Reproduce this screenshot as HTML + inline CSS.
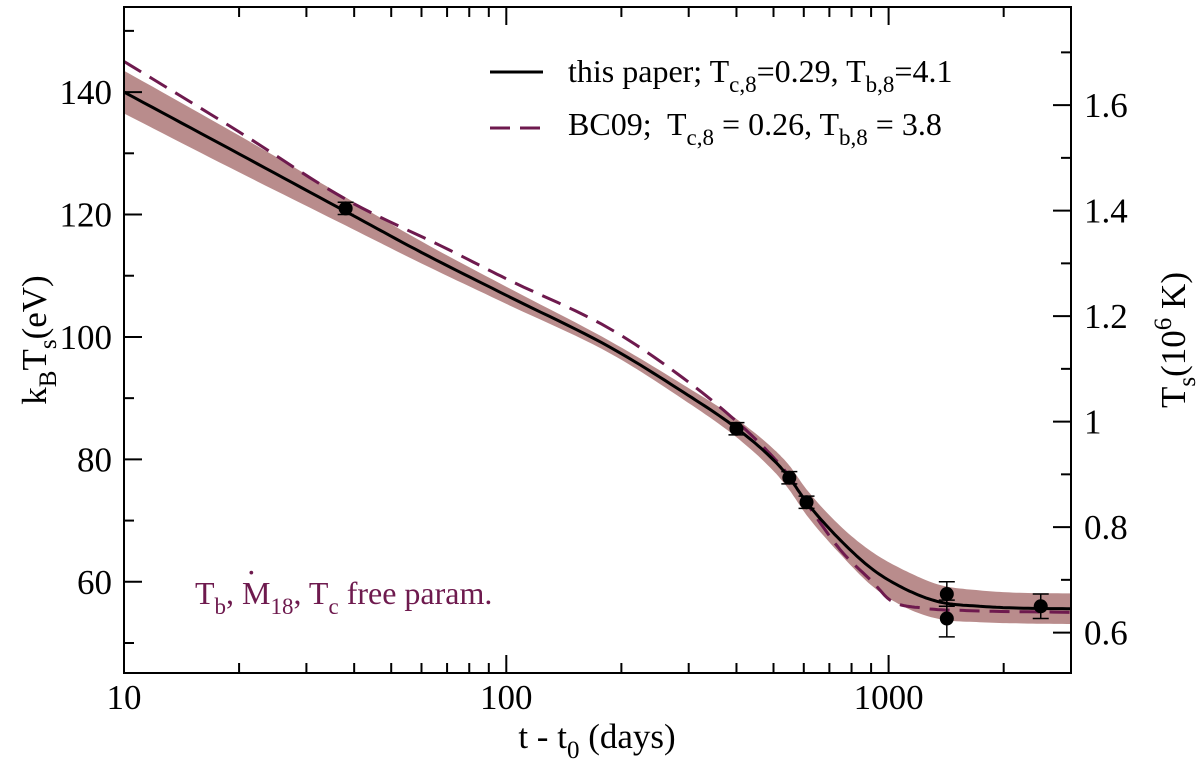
<!DOCTYPE html>
<html><head><meta charset="utf-8"><style>
html,body{margin:0;padding:0;background:#fff;}
</style></head><body>
<svg id="chart" width="1200" height="769" viewBox="0 0 1200 769" xmlns="http://www.w3.org/2000/svg" font-family="Liberation Serif, serif">
<g id="band"></g><g id="lines"></g><g id="pts"></g><g id="axes"></g>
<g>
 <line x1="490" y1="72" x2="543" y2="72" stroke="#000" stroke-width="3"/>
 <text x="568" y="82" font-size="32" font-family="Liberation Serif, serif">this paper; T<tspan font-size="23" dy="10">c,8</tspan><tspan dy="-10">=0.29, T</tspan><tspan font-size="23" dy="10">b,8</tspan><tspan dy="-10">=4.1</tspan></text>
 <line x1="490" y1="128" x2="543" y2="128" stroke="#6e1a4e" stroke-width="3" stroke-dasharray="20,10"/>
 <text x="568" y="135" font-size="32" font-family="Liberation Serif, serif" xml:space="preserve">BC09;  T<tspan font-size="23" dy="10">c,8</tspan><tspan dy="-10"> = 0.26, T</tspan><tspan font-size="23" dy="10">b,8</tspan><tspan dy="-10"> = 3.8</tspan></text>
</g>
<text x="195" y="604" font-size="32" fill="#6e1a4e" font-family="Liberation Serif, serif">T<tspan font-size="23" dy="10">b</tspan><tspan dy="-10">, M</tspan><tspan font-size="23" dy="10">18</tspan><tspan dy="-10">, T</tspan><tspan font-size="23" dy="10">c</tspan><tspan dy="-10"> free param.</tspan></text>
<text x="246" y="583" font-size="32" fill="#6e1a4e" font-family="Liberation Serif, serif">·</text>
<text x="597" y="748" font-size="35" text-anchor="middle" font-family="Liberation Serif, serif">t - t<tspan font-size="25" dy="10">0</tspan><tspan dy="-10"> (days)</tspan></text>
<text transform="translate(46,340) rotate(-90)" font-size="35" text-anchor="middle" font-family="Liberation Serif, serif">k<tspan font-size="25" dy="10">B</tspan><tspan dy="-10">T</tspan><tspan font-size="25" dy="10">s</tspan><tspan dy="-10">(eV)</tspan></text>
<text transform="translate(1185,340) rotate(-90)" font-size="35" text-anchor="middle" font-family="Liberation Serif, serif">T<tspan font-size="25" dy="10">s</tspan><tspan dy="-10">(10</tspan><tspan font-size="25" dy="-14">6</tspan><tspan dy="14"> K)</tspan></text>
</svg>
<script>
const xTicks=[10,100,1000];
const yTicks=[60,80,100,120,140];
const y2Ticks=[0.6,0.8,1,1.2,1.4,1.6];
const solidT=[10,20,38,60,100,187,290,400,500,550,610,748,914,1115,1360,1730,2200,3000];
const solidV=[140,129.9,120.5,113.8,106.8,98.3,91,85.1,79.9,77,73,66.8,61.9,58.7,56.7,56.0,55.7,55.6];
const bandHalf=[3.5,3,2.3,1.8,1.4,1,1.2,1.5,1.8,2,2.1,2.3,2.8,3,2.8,2.6,2.5,2.5];
const dashT=[10,20,38,71,100,187,290,400,500,550,610,748,914,1010,1230,1600,3000];
const dashV=[145,133.5,122.5,114.2,109.5,101.3,93.3,86.2,80.3,77.2,72.9,65.2,59.8,57,55.7,55.3,55];
const ptT=[38,400,550,610,1420,1420,2500];
const ptV=[121,85,77,73,58,54,56];
const ptE=[1,1,1,1,2,3,2];
const X0=124,X1=1071,Y0=673,Y1=7,xmin=10,xmax=3000,ymin=45.1,ymax=153.9,EV=86.17;
const sx=t=>X0+(Math.log10(t)-Math.log10(xmin))/(Math.log10(xmax)-Math.log10(xmin))*(X1-X0);
const sy=v=>Y0-(v-ymin)/(ymax-ymin)*(Y0-Y1);
const NS="http://www.w3.org/2000/svg";
function mk(tag,parent,attrs){const e=document.createElementNS(NS,tag);for(const k in attrs)e.setAttribute(k,attrs[k]);document.getElementById(parent).appendChild(e);return e;}
function smooth(pts){ // monotone cubic (Fritsch-Carlson)
 const n=pts.length,x=pts.map(p=>p[0]),y=pts.map(p=>p[1]);
 const d=[],m=[];
 for(let i=0;i<n-1;i++)d.push((y[i+1]-y[i])/(x[i+1]-x[i]));
 m[0]=d[0];m[n-1]=d[n-2];
 for(let i=1;i<n-1;i++){m[i]=(d[i-1]*d[i]<=0)?0:(d[i-1]+d[i])/2;}
 for(let i=0;i<n-1;i++){if(d[i]===0){m[i]=m[i+1]=0;continue;}const a=m[i]/d[i],b=m[i+1]/d[i],s=a*a+b*b;if(s>9){const t=3/Math.sqrt(s);m[i]=t*a*d[i];m[i+1]=t*b*d[i];}}
 const out=[];
 for(let i=0;i<n-1;i++){const h=x[i+1]-x[i];
  for(let s=0;s<12;s++){const t=s/12,t2=t*t,t3=t2*t;
   const h00=2*t3-3*t2+1,h10=t3-2*t2+t,h01=-2*t3+3*t2,h11=t3-t2;
   out.push([x[i]+t*h,h00*y[i]+h10*h*m[i]+h01*y[i+1]+h11*h*m[i+1]]);}}
 out.push(pts[n-1]);return out;
}
const P=a=>a.map(p=>p[0].toFixed(1)+','+p[1].toFixed(1)).join(' ');
let up=smooth(solidT.map((t,i)=>[sx(t),sy(solidV[i]+bandHalf[i])]));
let dn=smooth(solidT.map((t,i)=>[sx(t),sy(solidV[i]-bandHalf[i])])).reverse();
const band=mk('polygon','band',{points:P(up.concat(dn)),fill:'#b98c8c'});


const dl=mk('polyline','lines',{points:P(smooth(dashT.map((t,i)=>[sx(t),sy(dashV[i])]))),fill:'none',stroke:'#6e1a4e','stroke-width':3,'stroke-dasharray':'20,10'});


const sl=mk('polyline','lines',{points:P(smooth(solidT.map((t,i)=>[sx(t),sy(solidV[i])]))),fill:'none',stroke:'#000','stroke-width':3});


ptT.forEach((t,i)=>{
 const x=sx(t),y=sy(ptV[i]),yt=sy(ptV[i]+ptE[i]),yb=sy(ptV[i]-ptE[i]);
 const g=mk('g','pts',{});
 
 
 const add=(tag,a)=>{const e=document.createElementNS(NS,tag);for(const k in a)e.setAttribute(k,a[k]);g.appendChild(e);};
 add('line',{x1:x,y1:yt,x2:x,y2:yb,stroke:'#000','stroke-width':1.5});
 add('line',{x1:x-8,y1:yt,x2:x+8,y2:yt,stroke:'#000','stroke-width':1.5});
 add('line',{x1:x-8,y1:yb,x2:x+8,y2:yb,stroke:'#000','stroke-width':1.5});
 add('circle',{cx:x,cy:y,r:7,fill:'#000'});
});
const fr=mk('rect','axes',{x:X0,y:Y1,width:X1-X0,height:Y0-Y1,fill:'none',stroke:'#000','stroke-width':2});


function tk(x1,y1,x2,y2){mk('line','axes',{x1,y1,x2,y2,stroke:'#000','stroke-width':2});}
function txt(x,y,s,anchor){const e=mk('text','axes',{x,y,'font-size':35,'text-anchor':anchor,'font-family':'Liberation Serif, serif'});e.textContent=s;return e;}
for(let d=10;d<=1000;d*=10){for(let m=1;m<10;m++){const t=d*m;if(t>xmax)break;const x=sx(t);const L=m===1?18:10;tk(x,Y0,x,Y0-L);tk(x,Y1,x,Y1+L);}}
xTicks.forEach(t=>{const e=txt(sx(t),709,String(t),'middle');});
for(let v=50;v<=150;v+=10){const y=sy(v);tk(X0,y,X0+(v%20===0?18:10),y);}
yTicks.forEach(v=>{const e=txt(112,sy(v)+12,String(v),'end');});
for(let k=6;k<=17;k++){const v=k/10*EV;const y=sy(v);if(y<Y1)continue;tk(X1,y,X1-(k%2===0?18:10),y);}
y2Ticks.forEach(v=>{const e=txt(1084,sy(v*EV)+12,String(v),'start');});
</script>
</body></html>
